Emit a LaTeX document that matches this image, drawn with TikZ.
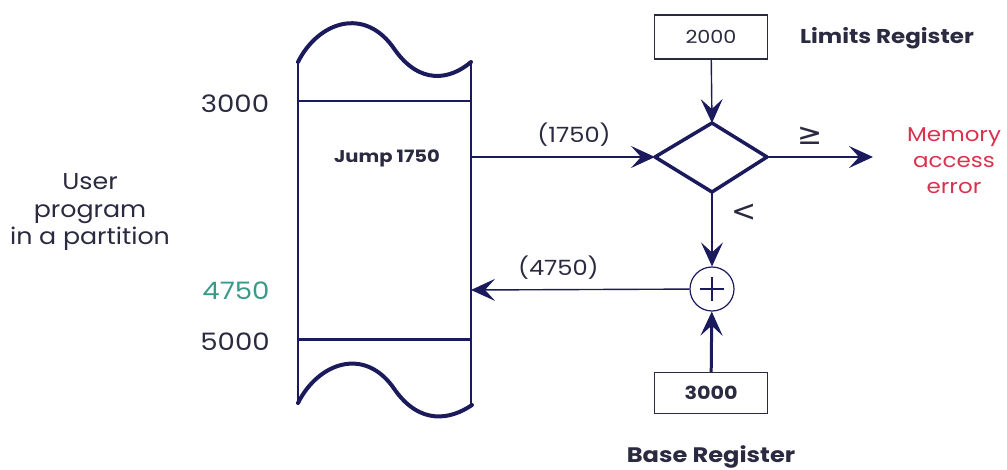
\documentclass[tikz,border=0pt]{standalone}
\usepackage{fontspec}
\setmainfont[FakeStretch=1.15]{Poppins}
\newfontfamily\widef[FakeStretch=1.1]{Poppins}
\newfontfamily\symfont{DejaVu Sans}
\usetikzlibrary{arrows.meta}
\definecolor{navy}{HTML}{1A1A5C}
\definecolor{txt}{HTML}{2A2A40}
\definecolor{errred}{HTML}{D8324E}
\definecolor{tealc}{HTML}{3A9A8A}
\tikzset{
  fs/.style={font=\fontsize{#1}{#1}\selectfont},
  fsb/.style={font=\bfseries\fontsize{#1}{#1}\selectfont},
  lab/.style={text=txt, inner sep=0pt},
  reg/.style={draw=txt, line width=1.3pt, minimum width=113pt, minimum height=44pt, inner sep=0pt, text=txt},
  tip/.style={-{Stealth[length=24pt,width=22pt,inset=10pt]}},
  conn/.style={navy, line width=1.4pt, tip},
}
\begin{document}
\begin{tikzpicture}[x=1pt,y=-1pt]
\useasboundingbox (0,0) rectangle (1007,470);
% memory block
\draw[navy, line width=1.5pt] (298,62) -- (298,403) (471,62) -- (471,405);
\draw[navy, line width=4pt, line cap=round] (298,62) .. controls (318,22) and (365,5) .. (395,50) .. controls (420,85) and (450,80) .. (471,62);
\draw[navy, line width=4pt, line cap=round] (298,403) .. controls (318,363) and (365,345) .. (395,390) .. controls (420,425) and (450,420) .. (472,405);
\draw[navy, line width=1.3pt] (298,101) -- (471,101);
\draw[navy, line width=3pt] (298,340) -- (471,340);
\coordinate (memR1) at (471,157);
\coordinate (memR2) at (471,290);
% left labels
\node[lab, fs=24] (a3000) at (235,104) {3000};
\node[lab, fs=24, text=tealc] (a4750) at (236,291) {4750};
\node[lab, fs=24] (a5000) at (235,342) {5000};
\node[lab, font=\widef\fontsize{23}{27.5}\selectfont, align=center] (user) at (90,212) {User\\program\\in a partition};
\node[lab, fsb=17] (jump) at (387,158) {Jump 1750};
% registers
\node[reg, fs=18] (lim) at (711,37) {2000};
\node[lab, fsb=20] (limlab) at (887,38) {Limits Register};
\node[reg, minimum height=41pt, fsb=18] (base) at (711,393) {3000};
\node[lab, fsb=21] (baselab) at (711,457) {Base Register};
% diamond
\coordinate (dL) at (655,157);
\coordinate (dT) at (712,123);
\coordinate (dR) at (767,157);
\coordinate (dB) at (712,192);
\draw[navy, line width=3.5pt, line join=round] (dL) -- (dT) -- (dR) -- (dB) -- cycle;
% adder
\node[draw=navy, circle, line width=1.2pt, minimum size=44pt, inner sep=0pt] (add) at (712,289) {};
\draw[navy, line width=1.6pt] (700,289) -- (724,289) (712,277) -- (712,301);
% connectors
\draw[conn] (memR1) -- node[lab, fs=21, above=10pt, pos=0.56] (l1750) {(1750)} (dL);
\draw[conn] (lim) -- (dT);
\coordinate (errpt) at (873,157);
\draw[conn] (dR) -- (errpt);
\node[lab, font=\symfont\fontsize{30}{30}\selectfont] (ge) at (810,136) {≥};
\draw[conn] (dB) -- (add);
\node[lab, font=\symfont\fontsize{30}{30}\selectfont] (lt) at (744,213) {<};
\draw[conn] (add) -- node[lab, fs=21, above=10pt, pos=0.6] (l4750) {(4750)} (memR2);
\draw[navy, line width=3pt, tip] (base) -- (add);
\node[lab, font=\fontsize{20}{26}\selectfont, text=errred, align=center] (err) at (954,161) {Memory\\access\\error};
\end{tikzpicture}
\end{document}
